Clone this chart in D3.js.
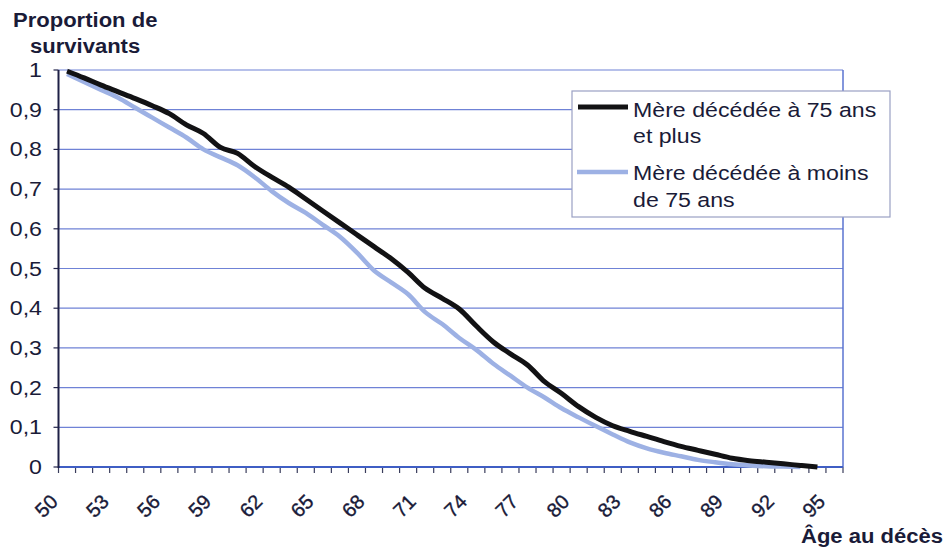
<!DOCTYPE html>
<html>
<head>
<meta charset="utf-8">
<script src="https://cdn.jsdelivr.net/npm/d3@7/dist/d3.min.js"></script>
<style>
  html, body { margin: 0; padding: 0; background: #ffffff; }
  svg { display: block; }
  text { font-family: "Liberation Sans", Arial, Helvetica, sans-serif; fill: #1a1b38; }
</style>
</head>
<body>
<svg id="chart" width="945" height="548"></svg>
<script>
// Ages (categories on the x axis)
const ages = d3.range(50, 96);
// Proportion of survivors by age at death
const mother75Plus = [
  0.997, 0.98, 0.962, 0.945, 0.928, 0.91, 0.89, 0.862, 0.84, 0.805,
  0.79, 0.757, 0.73, 0.705, 0.675, 0.645, 0.615, 0.585, 0.555, 0.525,
  0.49, 0.45, 0.425, 0.398, 0.355, 0.315, 0.285, 0.257, 0.215, 0.185,
  0.152, 0.125, 0.104, 0.09, 0.077, 0.064, 0.052, 0.042, 0.032, 0.022,
  0.016, 0.012, 0.008, 0.004, 0.0
];
const motherUnder75 = [
  0.99, 0.97, 0.95, 0.93, 0.905, 0.88, 0.855, 0.83, 0.80, 0.78,
  0.76, 0.73, 0.695, 0.665, 0.64, 0.61, 0.58, 0.54, 0.495, 0.465,
  0.435, 0.39, 0.36, 0.325, 0.295, 0.26, 0.23, 0.20, 0.175, 0.148,
  0.125, 0.103, 0.082, 0.062, 0.047, 0.036, 0.027, 0.018, 0.012, 0.007,
  0.004, 0.002, 0.001, 0.0
];
const yTicks = [0, 0.1, 0.2, 0.3, 0.4, 0.5, 0.6, 0.7, 0.8, 0.9, 1];
const xLabelAges = d3.range(50, 96, 3);
const seriesNames = ["Mère décédée à 75 ans", "et plus", "Mère décédée à moins", "de 75 ans"];
const yTitle = ["Proportion de", "survivants"];
const xTitle = "Âge au décès";

const svg = d3.select("#chart");
const plotLeft = 58.5, plotRight = 843, plotTop = 70, plotBottom = 467;
const SX = 1.13; // horizontal stretch of the lettering

const x = d3.scaleBand().domain(ages).range([plotLeft, plotRight]).padding(0);
const y = d3.scaleLinear().domain([0, 1]).range([plotBottom, plotTop]);
const bw = x.bandwidth();
const cx = a => x(a) + bw / 2;

function label(parent, px, py, s, opts = {}) {
  const t = parent.append("text")
    .attr("transform", `translate(${px},${py}) scale(${opts.sx || SX},1)`)
    .attr("font-size", opts.size || 20.5)
    .attr("text-anchor", opts.anchor || "start")
    .text(s);
  if (opts.bold) t.attr("font-weight", "bold");
  return t;
}

// Horizontal gridlines
svg.append("g").selectAll("line")
  .data(yTicks.filter(v => v > 0))
  .join("line")
  .attr("x1", plotLeft).attr("x2", plotRight)
  .attr("y1", d => y(d)).attr("y2", d => y(d))
  .attr("stroke", "#6f82d6").attr("stroke-width", 1.2);

// Right edge of the plot area
svg.append("line")
  .attr("x1", plotRight).attr("x2", plotRight).attr("y1", plotTop).attr("y2", plotBottom)
  .attr("stroke", "#5a73d0").attr("stroke-width", 1.5);

// X axis: ticks at category boundaries
const xEdges = ages.map(a => x(a)).concat([plotRight]);
svg.append("g").selectAll("line")
  .data(xEdges)
  .join("line")
  .attr("x1", d => d).attr("x2", d => d)
  .attr("y1", plotBottom).attr("y2", plotBottom + 6)
  .attr("stroke", "#3a3d5c").attr("stroke-width", 1.2);
svg.append("line")
  .attr("x1", plotLeft).attr("x2", plotRight).attr("y1", plotBottom).attr("y2", plotBottom)
  .attr("stroke", "#3f5ec4").attr("stroke-width", 2);

// Y axis
svg.append("g").selectAll("line")
  .data(yTicks)
  .join("line")
  .attr("x1", plotLeft - 5).attr("x2", plotLeft)
  .attr("y1", d => y(d)).attr("y2", d => y(d))
  .attr("stroke", "#22244a").attr("stroke-width", 1.2);
svg.append("line")
  .attr("x1", plotLeft).attr("x2", plotLeft).attr("y1", plotTop).attr("y2", plotBottom + 1)
  .attr("stroke", "#1e2046").attr("stroke-width", 2);

const yFmt = v => (v === 0 || v === 1) ? String(v) : d3.format(".1f")(v).replace(".", ",");
yTicks.forEach(v => label(svg, 42, y(v) + 7, yFmt(v), { anchor: "end" }));

// X tick labels, rotated
xLabelAges.forEach(a => {
  svg.append("text")
    .attr("transform", `translate(${x(a) + 0.5},${503}) rotate(-45)`)
    .attr("font-size", 20)
    .attr("fill", "#15183a")
    .attr("stroke", "#15183a")
    .attr("stroke-width", 0.35)
    .attr("text-anchor", "end")
    .text(a);
});

// Axis titles
label(svg, 13, 27, yTitle[0], { bold: true, size: 19.5 });
label(svg, 30, 53, yTitle[1], { bold: true, size: 19.5 });
label(svg, 943, 543, xTitle, { bold: true, size: 19.5, anchor: "end" });

// Survival curves
const line = d3.line()
  .x((d, i) => cx(ages[i]))
  .y(d => y(d))
  .curve(d3.curveMonotoneX);

svg.append("path")
  .datum(motherUnder75)
  .attr("d", line)
  .attr("fill", "none")
  .attr("stroke", "#9db1e4")
  .attr("stroke-width", 4.5)
  .attr("stroke-linejoin", "round");

svg.append("path")
  .datum(mother75Plus)
  .attr("d", line)
  .attr("fill", "none")
  .attr("stroke", "#121214")
  .attr("stroke-width", 5)
  .attr("stroke-linejoin", "round");

// Legend
const lg = svg.append("g");
lg.append("rect")
  .attr("x", 572).attr("y", 91).attr("width", 318).attr("height", 126)
  .attr("fill", "#ffffff").attr("stroke", "#9aa0c4").attr("stroke-width", 1.2);
lg.append("line")
  .attr("x1", 578).attr("x2", 628).attr("y1", 107).attr("y2", 107)
  .attr("stroke", "#121214").attr("stroke-width", 5);
lg.append("line")
  .attr("x1", 577).attr("x2", 628).attr("y1", 172).attr("y2", 172)
  .attr("stroke", "#9db1e4").attr("stroke-width", 4.5);
label(lg, 633, 117, seriesNames[0]);
label(lg, 633, 143, seriesNames[1]);
label(lg, 633, 180, seriesNames[2]);
label(lg, 633, 207, seriesNames[3]);
</script>
</body>
</html>
